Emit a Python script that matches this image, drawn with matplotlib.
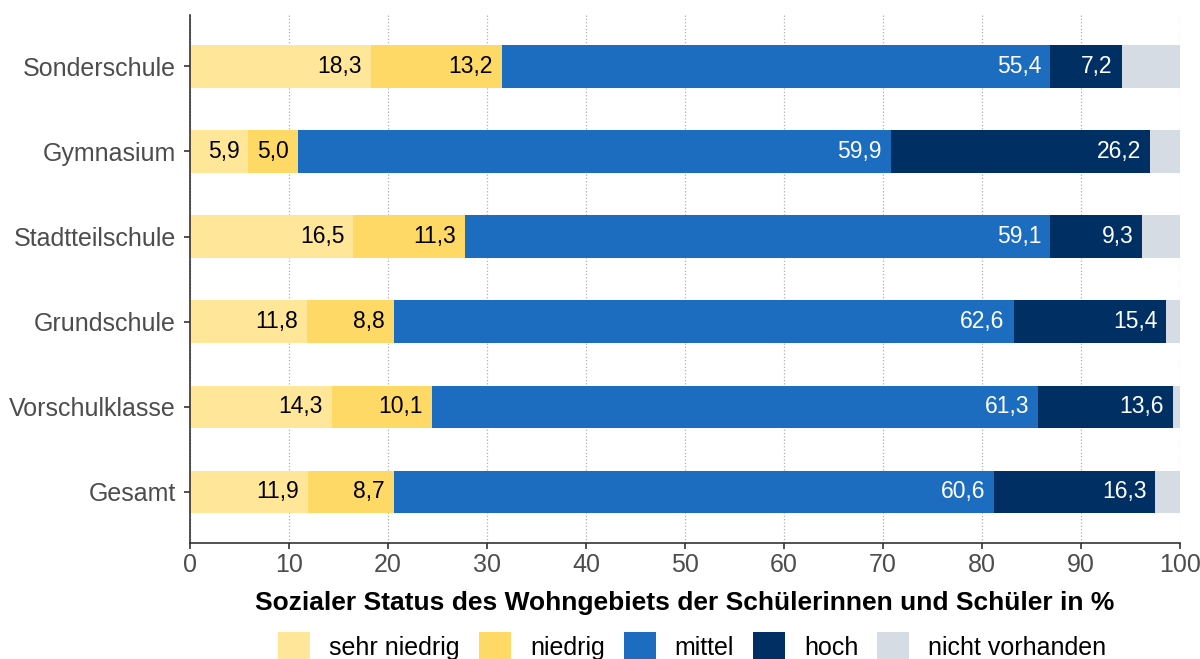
import matplotlib.pyplot as plt
import numpy as np
from matplotlib.patches import Patch

plt.rcParams['font.family'] = ['Liberation Sans', 'DejaVu Sans']

schulformen = ['Gesamt', 'Vorschulklasse', 'Grundschule', 'Stadtteilschule', 'Gymnasium', 'Sonderschule']
kategorien = ['sehr niedrig', 'niedrig', 'mittel', 'hoch', 'nicht vorhanden']
sehr_niedrig = [11.9, 14.3, 11.8, 16.5, 5.9, 18.3]
niedrig = [8.7, 10.1, 8.8, 11.3, 5.0, 13.2]
mittel = [60.6, 61.3, 62.6, 59.1, 59.9, 55.4]
hoch = [16.3, 13.6, 15.4, 9.3, 26.2, 7.2]
nicht_vorhanden = [2.5, 0.7, 1.4, 3.8, 3.0, 5.9]

farben = ['#FFE699', '#FFD966', '#1C6CBF', '#003063', '#D6DCE4']
textfarben = ['black', 'black', 'white', 'white', None]

fig = plt.figure(figsize=(12, 6.59), dpi=100)
ax = fig.add_axes([0.1583, 0.176, 0.825, 0.801])

y = np.arange(len(schulformen))
werte = [sehr_niedrig, niedrig, mittel, hoch, nicht_vorhanden]
left = np.zeros(len(schulformen))
for i, w in enumerate(werte):
    w = np.array(w)
    ax.barh(y, w, left=left, height=0.5, color=farben[i], zorder=2)
    if textfarben[i] is not None:
        for j in range(len(y)):
            ax.text(left[j] + w[j] - 0.9, y[j], f'{w[j]:.1f}'.replace('.', ','),
                    ha='right', va='center', fontsize=16.5, color=textfarben[i], zorder=3)
    left += w

ax.set_xlim(0, 100)
ax.set_ylim(-0.6, 5.6)
ax.set_xticks(np.arange(0, 101, 10))
ax.set_yticks(y)
ax.set_yticklabels(schulformen)
ax.tick_params(axis='both', labelsize=18, colors='#333333', labelcolor='#4d4d4d', length=4, width=1.2, pad=3)
ax.tick_params(axis='y', pad=6)
ax.xaxis.grid(True, linestyle=':', color='#b0b0b0', linewidth=0.9, zorder=0)
ax.set_axisbelow(True)
for s in ['top', 'right']:
    ax.spines[s].set_visible(False)
for s in ['left', 'bottom']:
    ax.spines[s].set_color('#333333')
    ax.spines[s].set_linewidth(1.2)

ax.set_xlabel('Sozialer Status des Wohngebiets der Schülerinnen und Schüler in %',
              fontsize=19, fontweight='bold', labelpad=10)

handles = [Patch(facecolor=farben[i], label=kategorien[i]) for i in range(len(kategorien))]
fig.legend(handles=handles, loc='center', ncol=5, frameon=False, fontsize=18,
           bbox_to_anchor=(0.577, 0.019), handlelength=1.28, handleheight=1.4,
           handletextpad=0.76, columnspacing=0.76, borderpad=0, borderaxespad=0)

fig.savefig('out.png', dpi=100)
